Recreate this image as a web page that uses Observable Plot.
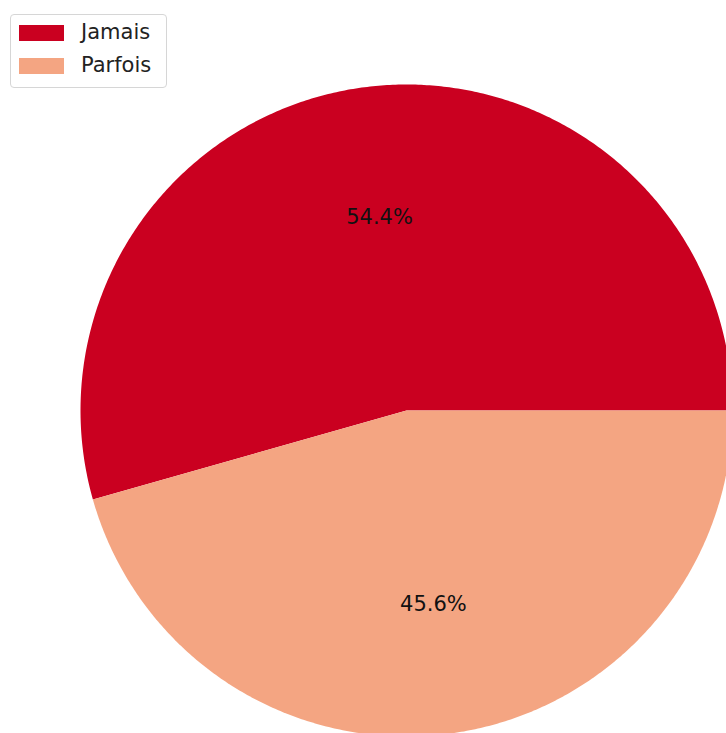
<!DOCTYPE html>
<html>
<head>
<meta charset="utf-8">
<script src="https://cdn.jsdelivr.net/npm/d3@7"></script>
<script src="https://cdn.jsdelivr.net/npm/@observablehq/plot@0.6"></script>
<style>
  html, body { margin: 0; padding: 0; background: #fff; }
  #wrap { position: relative; width: 726px; height: 733px; overflow: hidden; font-family: "DejaVu Sans", sans-serif; }
  #legend { position: absolute; left: 10px; top: 14px; width: 155px; height: 72px; border: 1px solid #d6d6d6; border-radius: 4px; background: rgba(255,255,255,0.85); }
  .item { position: absolute; left: 8px; height: 16px; }
  .sw { position: absolute; left: 0; top: 0; width: 45px; height: 16px; }
  .lab { position: absolute; left: 62px; top: -6px; font-size: 21px; line-height: 26px; color: #222; white-space: nowrap; }
</style>
</head>
<body>
<div id="wrap"></div>
<script>
const categories = ["Jamais", "Parfois"];
const values = [54.4, 45.6];
const colors = ["#ca0020", "#f4a582"];

const total = d3.sum(values);
// matplotlib pie: start at 0 rad (3 o'clock), counterclockwise
const polys = [];
const labels = [];
let acc = 0;
categories.forEach((c, i) => {
  const a0 = acc / total * 2 * Math.PI;
  acc += values[i];
  const a1 = acc / total * 2 * Math.PI;
  polys.push({label: c, x: 0, y: 0});
  const n = Math.max(2, Math.ceil((a1 - a0) / (Math.PI / 360)));
  for (let k = 0; k <= n; k++) {
    const a = a0 + (a1 - a0) * k / n;
    polys.push({label: c, x: Math.cos(a), y: Math.sin(a)});
  }
  polys.push({label: c, x: 0, y: 0});
  const am = (a0 + a1) / 2;
  labels.push({label: c, x: 0.6 * Math.cos(am), y: 0.6 * Math.sin(am), text: (values[i] / total * 100).toFixed(1) + "%"});
});

const cx = 406, cy = 410, R = 326;
const chart = Plot.plot({
  width: 726,
  height: 733,
  margin: 0,
  x: {domain: [-1, 1], range: [cx - R, cx + R], axis: null},
  y: {domain: [-1, 1], range: [cy + R, cy - R], axis: null},
  color: {domain: categories, range: colors},
  style: {background: "white", fontFamily: "DejaVu Sans, sans-serif"},
  marks: [
    Plot.line(polys, {x: "x", y: "y", z: "label", fill: "label", stroke: "none"}),
    Plot.text(labels, {x: "x", y: "y", text: "text", fontSize: 21, fill: "#111"})
  ]
});

const wrap = document.getElementById("wrap");
wrap.appendChild(chart);

const legend = document.createElement("div");
legend.id = "legend";
categories.forEach((c, i) => {
  const it = document.createElement("div");
  it.className = "item";
  it.style.top = (10 + i * 33) + "px";
  it.innerHTML = `<div class="sw" style="background:${colors[i]}"></div><div class="lab">${c}</div>`;
  legend.appendChild(it);
});
wrap.appendChild(legend);
</script>
</body>
</html>
